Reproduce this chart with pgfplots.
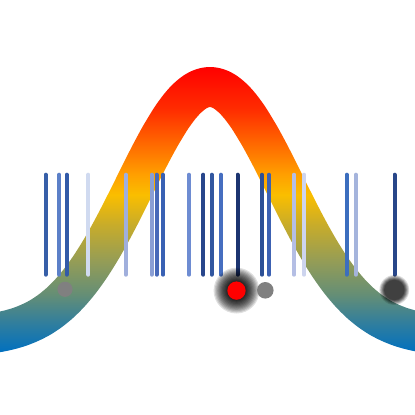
\documentclass[border=0pt]{standalone}
\usepackage{pgfplots}
\pgfplotsset{compat=1.18}
\definecolor{s0}{RGB}{0,112,192}
\definecolor{s1}{RGB}{45,125,160}
\definecolor{s2}{RGB}{100,142,118}
\definecolor{s3}{RGB}{150,157,85}
\definecolor{s4}{RGB}{200,172,42}
\definecolor{s5}{RGB}{250,190,0}
\definecolor{s6}{RGB}{255,160,0}
\definecolor{s7}{RGB}{255,115,0}
\definecolor{s8}{RGB}{255,45,0}
\definecolor{s9}{RGB}{255,0,0}
\pgfdeclareverticalshading{bandshade}{100bp}{color(0bp)=(s0); color(25bp)=(s0); color(29.9bp)=(s1); color(35.15bp)=(s2); color(41.25bp)=(s3); color(47.4bp)=(s4); color(52.6bp)=(s5); color(56.1bp)=(s6); color(60.5bp)=(s7); color(67.5bp)=(s8); color(75bp)=(s9); color(100bp)=(s9)}
\definecolor{ra}{RGB}{55,95,168}
\definecolor{rb}{RGB}{92,128,200}
\definecolor{rc}{RGB}{50,90,168}
\definecolor{rd}{RGB}{208,218,240}
\definecolor{re}{RGB}{160,175,220}
\definecolor{rf}{RGB}{138,158,212}
\definecolor{rg}{RGB}{72,105,185}
\definecolor{rh}{RGB}{57,97,180}
\definecolor{ri}{RGB}{110,140,210}
\definecolor{rj}{RGB}{40,70,140}
\definecolor{rk}{RGB}{50,87,160}
\definecolor{rl}{RGB}{70,110,192}
\definecolor{rm}{RGB}{28,52,112}
\definecolor{rn}{RGB}{45,80,150}
\definecolor{ro}{RGB}{60,97,178}
\definecolor{rp}{RGB}{180,190,228}
\definecolor{rq}{RGB}{205,212,238}
\definecolor{rr}{RGB}{60,110,190}
\definecolor{rs}{RGB}{165,180,220}
\definecolor{rt}{RGB}{40,70,137}
\definecolor{dgrey}{RGB}{128,128,128}
\definecolor{dred}{RGB}{255,0,0}
\definecolor{ddark}{RGB}{64,64,64}
\newcommand{\rug}[2]{\addplot[color=#2, line width=4bp, line cap=round] coordinates {(#1,140.3) (#1,240.3)};}
\newcommand{\pdot}[4]{\addplot[only marks, mark=*, color=#4, mark size=#3pt, mark options={draw opacity=0}] coordinates {(#1,#2)};}
\newcommand{\glow}[4]{\addplot[only marks, mark=*, color=black, mark size=#3pt, fill opacity=#4, mark options={draw opacity=0}] coordinates {(#1,#2)};}
\begin{document}
\begin{tikzpicture}
\begin{axis}[
  width=415bp, height=415bp, scale only axis,
  xmin=0, xmax=415, ymin=0, ymax=415,
  axis line style={draw=none}, ticks=none,
  axis background/.style={fill=white},
]
% thick band (stroke) used as mask
\addplot[black, line width=40bp, smooth, line join=round] coordinates {
(-40,79.0) (-30,79.5) (-20,80.3) (-10,81.5) (0,83.1) (10,85.3) (20,88.3) (30,92.3)
(40,97.4) (50,104.0) (60,112.2) (70,122.2) (80,134.1) (90,148.0) (100,163.8)
(110,181.3) (120,200.2) (130,220.0) (140,240.1) (150,259.9) (160,278.4) (170,295.0)
(175,302.3) (180,308.9) (185,314.6) (190,319.3) (195,323.1) (200,325.8) (205,327.4)
(210,328.0)
(215,327.4) (220,325.8) (225,323.1) (230,319.3) (235,314.6) (240,308.9) (245,302.3)
(250,295.0) (260,278.4) (270,259.9) (280,240.1) (290,220.0) (300,200.2) (310,181.3)
(320,163.8) (330,148.0) (340,134.1) (350,122.2) (360,112.2) (370,104.0) (380,97.4)
(390,92.3) (400,88.3) (410,85.3) (420,83.1) (430,81.5) (440,80.3) (450,79.5) (460,79.0)};
% gradient screened onto the band
\addplot[draw=none, shading=bandshade, blend mode=screen] coordinates {(-5,62) (420,62) (420,348.5) (-5,348.5)};
% rug lines
\rug{45.7}{ra}
\rug{59.2}{rb}
\rug{66.7}{rc}
\rug{88.3}{rd}
\rug{125.8}{re}
\rug{151.7}{rf}
\rug{156.5}{rg}
\rug{163.0}{rh}
\rug{189.0}{ri}
\rug{203.3}{rj}
\rug{211.7}{rk}
\rug{220.9}{rl}
\rug{237.5}{rm}
\rug{262.0}{rn}
\rug{269.0}{ro}
\rug{294.0}{rp}
\rug{304.0}{rq}
\rug{346.7}{rr}
\rug{355.8}{rs}
\rug{394.5}{rt}
% soft shadow under the red dot
\glow{236.5}{124.4}{23}{0.12}
\glow{236.5}{124.4}{21.8}{0.12}
\glow{236.5}{124.4}{20.6}{0.12}
\glow{236.5}{124.4}{19.4}{0.13}
\glow{236.5}{124.4}{18.2}{0.13}
\glow{236.5}{124.4}{17}{0.13}
\glow{236.5}{124.4}{15.8}{0.14}
\glow{236.5}{124.4}{14.6}{0.14}
\glow{236.5}{124.4}{13.4}{0.15}
\glow{236.5}{124.4}{12.2}{0.15}
\glow{236.5}{124.4}{11}{0.16}
\glow{236.5}{124.4}{10}{0.16}
% soft shadow under the dark dot
\glow{394.3}{125.0}{15}{0.12}
\glow{394.3}{125.0}{14.2}{0.14}
\glow{394.3}{125.0}{13.4}{0.16}
\glow{394.3}{125.0}{12.6}{0.18}
\glow{394.3}{125.0}{11.8}{0.2}
\glow{394.3}{125.0}{11}{0.2}
% dots
\pdot{65.0}{125.7}{7.6}{dgrey}
\pdot{265.3}{124.7}{8.3}{dgrey}
\pdot{236.5}{124.4}{9.2}{dred}
\pdot{394.3}{125.0}{10.2}{ddark}
\end{axis}
\end{tikzpicture}
\end{document}
